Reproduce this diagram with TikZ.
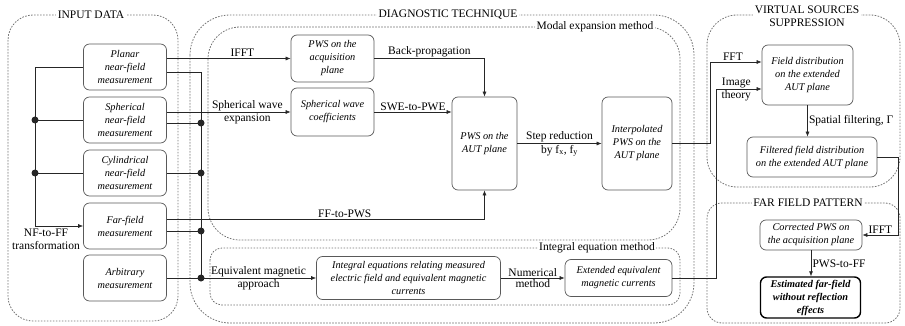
\documentclass[tikz,border=0pt]{standalone}
\usepackage{fontspec}
\setmainfont{Liberation Serif}
\usetikzlibrary{arrows.meta,calc}

\begin{document}
\begin{tikzpicture}[x=1pt, y=-1pt,
    box/.style={draw=black!65, line width=0.7pt, rounded corners=6pt, align=center, inner sep=2pt,
      font=\fontsize{10.3}{13}\selectfont\itshape},
    inbox/.style={minimum width=83pt, minimum height=46pt},
    estbox/.style={draw=black, line width=1.4pt, font=\fontsize{10.3}{13}\selectfont\bfseries\itshape},
    lbl/.style={font=\fontsize{11.5}{13}\selectfont, align=center, inner sep=1.2pt},
    region/.style={draw=black!55, dash pattern=on 1.6pt off 1.4pt, line width=0.8pt},
    ttl/.style={fill=white, font=\fontsize{11.5}{13}\selectfont, align=center, inner sep=1.5pt},
    wire/.style={draw=black!85, line width=0.6pt},
    arr/.style={-{Latex[length=5pt,width=4pt]}},
    dot/.style={fill=black!85},
  ]
    \useasboundingbox (0,0) rectangle (905,326);

    % regions
    \draw[region, rounded corners=25pt] (8,15) rectangle (178,321);
    \draw[region, rounded corners=40pt] (190,15) rectangle (694,323);
    \draw[region, rounded corners=32pt] (208,27) rectangle (680,240);
    \draw[region, rounded corners=12pt] (210,248) rectangle (680,305);
    \draw[region, rounded corners=30pt] (707,15) rectangle (900,187);
    \draw[region, rounded corners=15pt] (707,203) rectangle (900,323);
    \node[ttl] (tin) at (91,15) {INPUT DATA};
    \node[ttl] (tdiag) at (448,15) {DIAGNOSTIC TECHNIQUE};
    \node[ttl] (tmodal) at (595,27) {Modal expansion method};
    \node[ttl] (tinteg) at (597,248) {Integral equation method};
    \node[ttl] (tvirt) at (807,16.5) {VIRTUAL SOURCES\\SUPPRESSION};
    \node[ttl] (tfar) at (808,203) {FAR FIELD PATTERN};

    % input data
    \foreach \n/\y/\t in {pla/67/{Planar\\near-field\\measurement},
        sph/120/{Spherical\\near-field\\measurement},
        cyl/173/{Cylindrical\\near-field\\measurement},
        far/226/{Far-field\\measurement},
        arb/278/{Arbitrary\\measurement}} {
      \node[box, inbox] (\n) at (125,\y) {\t};
    }

    % modal expansion
    \node[box, minimum width=83pt, minimum height=47pt] (acq) at (332.5,58.5) {PWS on the\\acquisition\\plane};
    \node[box, minimum width=83pt, minimum height=48pt] (swc) at (332.5,112) {Spherical wave\\coefficients};
    \node[box, minimum width=65pt, minimum height=93pt] (aut) at (484.5,143.5) {PWS on the\\AUT plane};
    \node[box, minimum width=70pt, minimum height=93pt] (itp) at (637,143.5) {Interpolated\\PWS on the\\AUT plane};

    % integral equation
    \node[box, minimum width=184pt, minimum height=43pt] (intg) at (408.5,278) {Integral equations relating measured\\electric field and equivalent magnetic\\currents};
    \node[box, minimum width=107pt, minimum height=37pt] (ext) at (618.5,278) {Extended equivalent\\magnetic currents};

    % virtual sources + far field
    \node[box, minimum width=91pt, minimum height=60pt] (fld) at (807.5,75) {Field distribution\\on the extended\\AUT plane};
    \node[box, minimum width=130pt, minimum height=40pt] (flt) at (812,157) {Filtered field distribution\\on the extended AUT plane};
    \node[box, minimum width=102pt, minimum height=30pt] (cor) at (811,235) {Corrected PWS on\\the acquisition plane};
    \node[box, estbox, minimum width=100pt, minimum height=41pt] (est) at (810.5,297.5) {Estimated far-field\\without reflection\\effects};

    % left bus
    \coordinate (lbus) at (35,67);
    \draw[wire, arr] (pla.west) -- (lbus) |- (far.west);
    \foreach \s in {sph, cyl} {
      \draw[wire] (\s.west) -- (\s.west -| lbus);
      \fill[dot] (\s.west -| lbus) circle[radius=3.5pt];
    }
    \node[lbl] (nfff) at (46,239) {NF-to-FF\\transformation};

    % right bus
    \coordinate (rbus) at (201,72);
    \draw[wire] ($(pla.east)+(0,5)$) -- (rbus) -- (rbus |- intg.west);
    \foreach \s/\dy in {sph/3, cyl/0, far/5, arb/0} {
      \coordinate (o\s) at ($(\s.east)+(0,\dy)$);
      \draw[wire] (o\s) -- (o\s -| rbus);
      \fill[dot] (o\s -| rbus) circle[radius=3.5pt];
    }
    \draw[wire, arr] (rbus |- intg.west) -- node[lbl, above] {Equivalent magnetic} node[lbl, below] {approach} (intg.west);

    % modal connectors
    \draw[wire, arr] (pla.east |- acq.west) -- node[lbl, above, pos=0.61] {IFFT} (acq.west);
    \draw[wire, arr] (acq.east) -| node[lbl, above, pos=0.25] {Back-propagation} (aut.north);
    \draw[wire, arr] (sph.east |- swc.west) -- node[lbl, above, pos=0.65] {Spherical wave} node[lbl, below, pos=0.65] {expansion} (swc.west);
    \draw[wire, arr] (swc.east) -- node[lbl, above] {SWE-to-PWE} (swc.east -| aut.west);
    \draw[wire, arr] ($(far.east)+(0,-7)$) -| node[lbl, above, pos=0.28] {FF-to-PWS} (aut.south);
    \draw[wire, arr] (aut.east) -- node[lbl, above] {Step reduction} node[lbl, below] {by f\textsubscript{x}, f\textsubscript{y}} (itp.west);

    % integral connector
    \draw[wire, arr] (intg.east) -- node[lbl, above] {Numerical} node[lbl, below] {method} (ext.west);

    % to virtual sources
    \draw[wire, arr] (itp.east) -- ++(38,0) |- node[lbl, above, pos=0.72] {FFT} ($(fld.west)+(0,-13)$);
    \draw[wire, arr] (ext.east) -- ++(44,0) |- node[lbl, pos=0.72] {Image\\theory} ($(fld.west)+(0,14)$);
    \draw[wire, arr] (fld.south) -- node[lbl, right] {Spatial filtering, Γ} (fld.south |- flt.north);

    % to far field
    \draw[wire, arr] (flt.east) -- ++(21,0) |- node[lbl, above, pos=0.75] {IFFT} (cor.east);
    \draw[wire, arr] (cor.south) -- node[lbl, right] {PWS-to-FF} (cor.south |- est.north);
  \end{tikzpicture}
\end{document}
